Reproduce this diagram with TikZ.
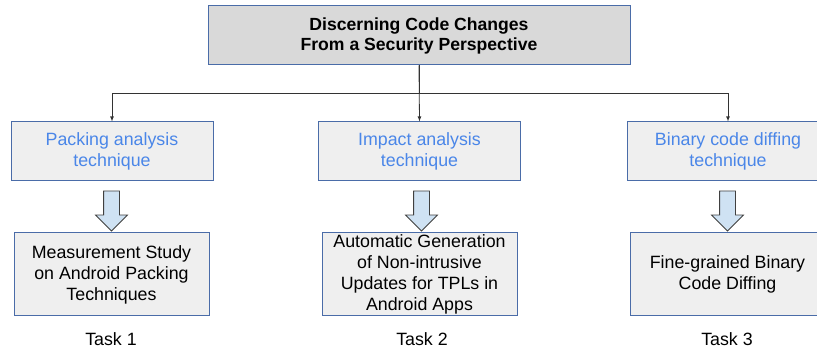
\documentclass[tikz,border=0pt]{standalone}
\usepackage{fontspec}
\setmainfont{Liberation Sans}
\usetikzlibrary{shapes.arrows}

\definecolor{boxline}{RGB}{74,108,168}
\definecolor{headgray}{RGB}{217,217,217}
\definecolor{boxgray}{RGB}{239,239,239}
\definecolor{techblue}{RGB}{74,134,232}
\definecolor{arrowblue}{RGB}{207,226,243}

\tikzset{
  headbox/.style  = {shape=rectangle, draw=boxline, fill=headgray,
                     line width=1pt, align=center,
                     font=\fontsize{17.6}{20}\selectfont\bfseries,
                     execute at begin node={\rule{0pt}{21pt}},
                     minimum width=422pt, minimum height=59pt},
  techbox/.style  = {shape=rectangle, draw=boxline, fill=boxgray,
                     line width=1pt, align=center, text=techblue,
                     execute at begin node={\rule{0pt}{17pt}},
                     minimum width=202pt, minimum height=59pt},
  taskbox/.style  = {techbox, text=black, inner sep=0pt,
                     minimum width=195pt, minimum height=83pt},
  bigarrow/.style = {single arrow, draw=black!75, fill=arrowblue,
                     line width=0.8pt, inner sep=7.5pt,
                     single arrow head extend=8pt,
                     minimum height=40pt, rotate=-90},
  tasklabel/.style = {inner sep=0pt}
}

\begin{document}
\begin{tikzpicture}
[
x=1pt, y=-1pt,
    every node/.style = {font=\fontsize{17.8}{21}\selectfont},
    link/.style       = {draw=black!80, line width=0.8pt, -latex}
  ]
\clip (0,0) rectangle (817,352);

\node[headbox] (title) at (419,35.5) {Discerning Code Changes\\From a Security Perspective};

% techniques
\node[techbox] (pack)   at (112,151.5) {Packing analysis\\technique};
\node[techbox] (impact) at (419.5,151.5) {Impact analysis\\technique};
\node[techbox] (binary) at (728,151.5) {Binary code diffing\\technique};

\draw[link] (title.south) -- ++(0,28) -| (pack.north);
\draw[link] (title.south) -- (impact.north);
\draw[link] (title.south) -- ++(0,28) -| (binary.north);

% block arrows
\node[bigarrow] (arr1) at (111.5,207) {};
\node[bigarrow] (arr2) at (421.5,207) {};
\node[bigarrow] (arr3) at (727.5,207) {};

% tasks
\node[taskbox] (study)  at (111.5,274.5) {Measurement Study\\on Android Packing\\Techniques};
\node[taskbox] (update) at (419.5,274.5) {Automatic Generation\\of Non-intrusive\\Updates for TPLs in\\Android Apps};
\node[taskbox] (diff)   at (727.5,274.5) {Fine-grained Binary\\Code Diffing};

\node[tasklabel] (task1) at (111,339) {Task 1};
\node[tasklabel] (task2) at (422,339) {Task 2};
\node[tasklabel] (task3) at (727,339) {Task 3};
\end{tikzpicture}
\end{document}
